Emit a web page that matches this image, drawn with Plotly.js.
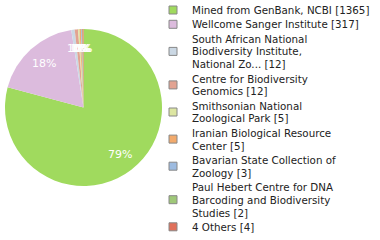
<!DOCTYPE html>
<html>
<head>
<meta charset="utf-8">
<script src="https://cdn.plot.ly/plotly-3.0.1.min.js"></script>
<style>html,body{margin:0;padding:0;background:#fff;}#chart{width:380px;height:240px;}</style>
</head>
<body>
<div id="chart"></div>
<script>
const categories = [
  "Mined from GenBank, NCBI [1365]",
  "Wellcome Sanger Institute [317]",
  "South African National<br>Biodiversity Institute,<br>National Zo... [12]",
  "Centre for Biodiversity<br>Genomics [12]",
  "Smithsonian National<br>Zoological Park [5]",
  "Iranian Biological Resource<br>Center [5]",
  "Bavarian State Collection of<br>Zoology [3]",
  "Paul Hebert Centre for DNA<br>Barcoding and Biodiversity<br>Studies [2]",
  "4 Others [4]"
];
const values = [1365, 317, 12, 12, 5, 5, 3, 2, 4];
const colors = ["#a0da5e", "#dcbbdd", "#cbd8e4", "#e2a392", "#dde6a2", "#f2aa6c", "#9dbbe0", "#9fc878", "#e0705a"];

const W = 380, H = 240;
// pie geometry (pixels)
const cx = 83.5, cy = 107.5, R = 78.5, labelR = 0.755 * R;
// legend geometry (pixels)
const lineH = 12.8, itemGap = 1.5, firstY = 10;
const textX = 190, swX0 = 169, swSize = 8;

const annotations = [];
const shapes = [];
let y = firstY;
categories.forEach((lab, i) => {
  const lines = lab.split("<br>");
  const ys = [];
  lines.forEach((ln) => {
    ys.push(y);
    annotations.push({
      xref: "paper", yref: "paper", x: textX / W, y: 1 - y / H,
      xanchor: "left", yanchor: "middle", showarrow: false,
      text: ln, font: {family: "DejaVu Sans", size: 10.3, color: "#222"}
    });
    y += lineH;
  });
  y += itemGap;
  const my = (ys[0] + ys[ys.length - 1]) / 2;
  shapes.push({
    type: "rect", xref: "paper", yref: "paper",
    x0: swX0 / W, x1: (swX0 + swSize) / W,
    y0: 1 - (my + swSize / 2) / H, y1: 1 - (my - swSize / 2) / H,
    fillcolor: colors[i], line: {color: "#888", width: 1}
  });
});

// percentage labels placed along each slice's mid-angle
const total = values.reduce((a, b) => a + b, 0);
let cum = 0;
values.forEach((v) => {
  const mid = (cum + v / 2) / total * 2 * Math.PI;
  cum += v;
  const px = cx + labelR * Math.sin(mid);
  const py = cy - labelR * Math.cos(mid);
  annotations.push({
    xref: "paper", yref: "paper", x: px / W, y: 1 - py / H,
    xanchor: "center", yanchor: "middle", showarrow: false,
    text: Math.round(v / total * 100) + "%",
    font: {family: "DejaVu Sans", size: 11, color: "#fff"}
  });
});

const trace = {
  type: "pie",
  labels: categories.map(c => c.replace(/<br>/g, " ")),
  values: values,
  sort: false,
  direction: "clockwise",
  rotation: 0,
  marker: {colors: colors, line: {width: 0}},
  textinfo: "none",
  showlegend: false,
  hoverinfo: "none",
  domain: {x: [(cx - R) / W, (cx + R) / W], y: [1 - (cy + R) / H, 1 - (cy - R) / H]}
};

Plotly.newPlot("chart", [trace], {
  width: W, height: H,
  margin: {l: 0, r: 0, t: 0, b: 0},
  paper_bgcolor: "#fff",
  showlegend: false,
  annotations: annotations,
  shapes: shapes
}, {staticPlot: true});
</script>
</body>
</html>
